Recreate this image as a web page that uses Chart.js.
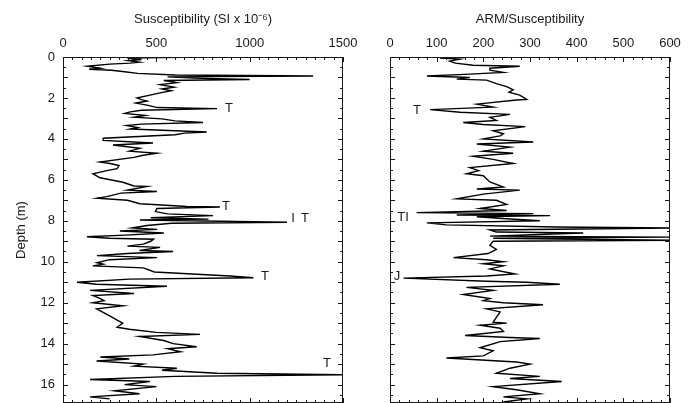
<!DOCTYPE html>
<html>
<head>
<meta charset="utf-8">
<script src="https://cdn.jsdelivr.net/npm/chart.js@4.4.1/dist/chart.umd.min.js"></script>
<style>
  html, body { margin: 0; padding: 0; background: #fff; }
  #wrap { position: relative; width: 693px; height: 403px; overflow: hidden; }
  .panel { position: absolute; top: 0; }
</style>
</head>
<body>
<div id="wrap">
  <div class="panel" style="left:0;width:365px;height:403px"><canvas id="suscChart"></canvas></div>
  <div class="panel" style="left:365px;width:328px;height:403px"><canvas id="armChart"></canvas></div>
</div>
<script>
// depth (m) and magnetic susceptibility (SI x 10^-6)
const suscDepth = [0.02, 0.05, 0.12, 0.18, 0.25, 0.3, 0.35, 0.45, 0.55, 0.6, 0.65, 0.72, 0.8, 0.88, 0.93, 0.97, 1.03, 1.1, 1.15, 1.25, 1.35, 1.47, 1.56, 1.65, 1.75, 1.86, 2.0, 2.08, 2.15, 2.25, 2.35, 2.47, 2.52, 2.6, 2.68, 2.76, 2.85, 2.94, 3.02, 3.12, 3.2, 3.28, 3.35, 3.45, 3.52, 3.6, 3.66, 3.72, 3.8, 3.97,
  4.07, 4.2, 4.3, 4.46, 4.6, 4.7, 4.8, 4.9, 5.13, 5.2, 5.3, 5.45, 5.55, 5.7, 5.9, 6.12, 6.3, 6.32, 6.5, 6.57, 6.65, 6.82, 6.9, 7.0, 7.17, 7.3, 7.33, 7.4, 7.55, 7.66, 7.75, 7.85, 7.92, 7.96, 8.07, 8.12, 8.23, 8.35, 8.42, 8.5, 8.6, 8.7, 8.78, 8.85, 8.9, 9.0, 9.14, 9.24, 9.3, 9.45, 9.5, 9.6, 9.7, 9.8, 9.9, 10.05,
  10.12, 10.2, 10.3, 10.5, 10.7, 10.78, 10.85, 11.0, 11.1, 11.2, 11.4, 11.55, 11.65, 11.8, 11.9, 12.0, 12.15, 12.3, 12.65, 12.85, 13.0, 13.2, 13.3, 13.45, 13.55, 13.65, 13.85, 14.0, 14.15, 14.25, 14.4, 14.55, 14.65, 14.75, 14.85, 15.0, 15.1, 15.2, 15.3, 15.45, 15.52, 15.6, 15.75, 15.85, 16.0, 16.1, 16.3, 16.45, 16.6, 16.7];
const suscValue = [640, 345, 420, 350, 410, 360, 250, 130, 200, 140, 260, 330, 400, 600, 1340, 560, 700, 1000, 540, 610, 520, 595, 530, 580, 520, 466, 396, 420, 450, 390, 450, 505, 825, 420, 360, 330, 440, 380, 530, 600, 750, 420, 340, 400, 360, 600, 770, 650, 600, 215,
  215, 482, 268, 412, 355, 503, 430, 380, 198, 252, 300, 290, 235, 160, 198, 321, 380, 450, 345, 503, 310, 235, 182, 345, 412, 664, 841, 503, 495, 560, 804, 470, 780, 412, 1200, 580, 450, 370, 505, 305, 540, 335, 128, 250, 485, 470, 430, 345, 520, 410, 590, 345, 182, 503, 250, 182,
  215, 160, 430, 490, 895, 1020, 355, 75, 180, 557, 145, 380, 160, 200, 220, 160, 322, 180, 250, 290, 320, 290, 355, 500, 734, 410, 540, 590, 716, 560, 630, 482, 200, 355, 180, 430, 380, 610, 530, 825, 1500, 600, 145, 465, 330, 500, 275, 410, 145, 250];

// depth (m) and ARM/susceptibility ratio
const armDepth = [0.05, 0.1, 0.2, 0.3, 0.4, 0.45, 0.55, 0.64, 0.75, 0.85, 0.93, 1.0, 1.08, 1.13, 1.3, 1.45, 1.6, 1.72, 1.86, 2.07, 2.1, 2.3, 2.45, 2.57, 2.7, 2.8, 2.95, 3.1, 3.2, 3.3, 3.4, 3.6, 3.75, 3.85, 4.0,
  4.15, 4.25, 4.4, 4.6, 4.7, 4.85, 5.0, 5.2, 5.4, 5.55, 5.7, 5.8, 6.1, 6.35, 6.45, 6.5, 6.7, 6.93, 7.0, 7.2, 7.4, 7.5, 7.6, 7.65, 7.72, 7.75, 7.8, 7.9, 8.0, 8.1, 8.2, 8.3, 8.35, 8.45, 8.55, 8.6, 8.75, 8.8, 8.85, 8.9, 8.95, 9.0, 9.2, 9.4, 9.6, 9.8, 9.9, 10.0,
  10.1, 10.2, 10.35, 10.6, 10.7, 10.8, 10.95, 11.0, 11.1, 11.25, 11.4, 11.6, 11.8, 11.9, 12.0, 12.1, 12.3, 12.45, 12.95, 13.0, 13.1, 13.25, 13.4, 13.6, 13.7, 13.75, 13.9, 14.2, 14.35, 14.6, 14.7, 14.9, 15.0, 15.2, 15.45, 15.6, 15.7, 15.85, 16.1, 16.25, 16.45, 16.6, 16.7, 16.85];
const armValue = [107, 150, 128, 140, 178, 278, 214, 214, 243, 160, 79, 171, 143, 207, 228, 250, 264, 255, 278, 293, 271, 186, 221, 86, 150, 257, 214, 228, 157, 200, 290, 221, 243, 236, 200,
  307, 186, 257, 200, 264, 178, 221, 264, 171, 190, 164, 200, 214, 243, 186, 278, 200, 143, 228, 250, 193, 250, 57, 307, 143, 343, 186, 250, 321, 79, 121, 357, 600, 214, 228, 414, 214, 600, 221, 407, 600, 221, 214, 228, 210, 136, 207, 243,
  200, 243, 214, 268, 207, 29, 207, 293, 364, 164, 221, 157, 214, 200, 243, 328, 207, 236, 221, 250, 193, 236, 243, 161, 257, 321, 236, 193, 221, 200, 121, 271, 300, 257, 228, 321, 257, 368, 221, 271, 321, 243, 293, 243];

// "T" markers next to the spikes: [value, depth, text]
const suscMarks = [[889, 2.5, 'T'], [873, 7.3, 'T'], [1232, 7.9, 'I'], [1296, 7.9, 'T'], [1082, 10.7, 'T'], [1414, 14.95, 'T']];
const armMarks = [[58, 2.6, 'T'], [28, 7.85, 'TI'], [15, 10.7, 'J']];

const FONT = "'Liberation Sans', Arial, sans-serif";
const INK = '#1a1a1a';

// box, inward tick marks and marker letters
const framePlugin = {
  id: 'frame',
  afterDatasetsDraw(chart, args, opts) {
    const { ctx, chartArea: a, scales } = chart;
    const xs = scales.x, ys = scales.y;
    ctx.save();
    ctx.strokeStyle = INK;
    ctx.lineWidth = 1;
    ctx.strokeRect(a.left + 0.5, a.top + 0.5, a.right - a.left - 1, a.bottom - a.top - 1);
    ctx.beginPath();
    for (let v = 0; v <= xs.max + 1e-6; v += opts.xMinor) {
      const px = Math.round(xs.getPixelForValue(v)) + 0.5;
      const len = Math.abs(v / opts.xMajor - Math.round(v / opts.xMajor)) < 1e-6 ? 5 : 3;
      ctx.moveTo(px, a.top); ctx.lineTo(px, a.top + len);
      ctx.moveTo(px, a.bottom); ctx.lineTo(px, a.bottom - len);
    }
    for (let d = 0; d <= ys.max + 1e-6; d += 0.5) {
      const py = Math.round(ys.getPixelForValue(d)) + 0.5;
      const len = Math.abs(d - Math.round(d)) < 1e-6 ? 5 : 3;
      ctx.moveTo(a.left, py); ctx.lineTo(a.left + len, py);
      ctx.moveTo(a.right, py); ctx.lineTo(a.right - len, py);
    }
    ctx.stroke();
    ctx.fillStyle = INK;
    ctx.font = '13px ' + FONT;
    ctx.textAlign = 'center';
    ctx.textBaseline = 'middle';
    opts.marks.forEach(([v, d, t]) => {
      ctx.fillText(t, xs.getPixelForValue(v), ys.getPixelForValue(d));
    });
    ctx.restore();
  }
};

function makePanel(id, depth, value, cfg) {
  const points = depth.map((d, i) => ({ x: value[i], y: d }));
  return new Chart(document.getElementById(id), {
    type: 'scatter',
    data: {
      datasets: [{
        data: points,
        showLine: true,
        borderColor: '#000',
        borderWidth: 1.4,
        pointRadius: 0,
        tension: 0
      }]
    },
    options: {
      responsive: true,
      maintainAspectRatio: false,
      animation: false,
      layout: { padding: cfg.padding },
      plugins: {
        legend: { display: false },
        tooltip: { enabled: false },
        frame: { marks: cfg.marks, xMinor: cfg.xMinor, xMajor: cfg.xMajor }
      },
      scales: {
        x: {
          type: 'linear',
          position: 'top',
          min: 0,
          max: cfg.xMax,
          grid: { display: false, drawTicks: false },
          border: { display: false },
          ticks: { stepSize: cfg.xStep, padding: 6, color: INK, font: { family: FONT, size: 13 }, maxRotation: 0, callback: v => String(v) },
          title: { display: true, text: cfg.title, color: INK, font: { family: FONT, size: 13 }, padding: { top: 12, bottom: 4 } },
          afterFit: s => { s.height = 57; s.paddingLeft = 0; s.paddingRight = 0; }
        },
        y: {
          type: 'linear',
          reverse: true,
          min: 0,
          max: 16.9,
          display: cfg.showY,
          grid: { display: false, drawTicks: false },
          border: { display: false },
          ticks: { stepSize: 2, includeBounds: false, padding: 8, color: INK, font: { family: FONT, size: 13 } },
          title: { display: cfg.showY, text: 'Depth (m)', color: INK, font: { family: FONT, size: 13 }, padding: { top: 2, bottom: 4 } },
          afterFit: s => { s.width = cfg.yWidth; s.paddingTop = 0; s.paddingBottom = 0; }
        }
      }
    },
    plugins: [framePlugin]
  });
}

makePanel('suscChart', suscDepth, suscValue, {
  title: 'Susceptibility (SI x 10⁻⁶)', xMax: 1500, xStep: 500, xMinor: 50, xMajor: 500,
  showY: true, yWidth: 51, marks: suscMarks, padding: { left: 12, right: 22, top: 0, bottom: 0 }
});
makePanel('armChart', armDepth, armValue, {
  title: 'ARM/Susceptibility', xMax: 600, xStep: 100, xMinor: 20, xMajor: 100,
  showY: false, yWidth: 0, marks: armMarks, padding: { left: 25, right: 23, top: 0, bottom: 0 }
});
</script>
</body>
</html>
